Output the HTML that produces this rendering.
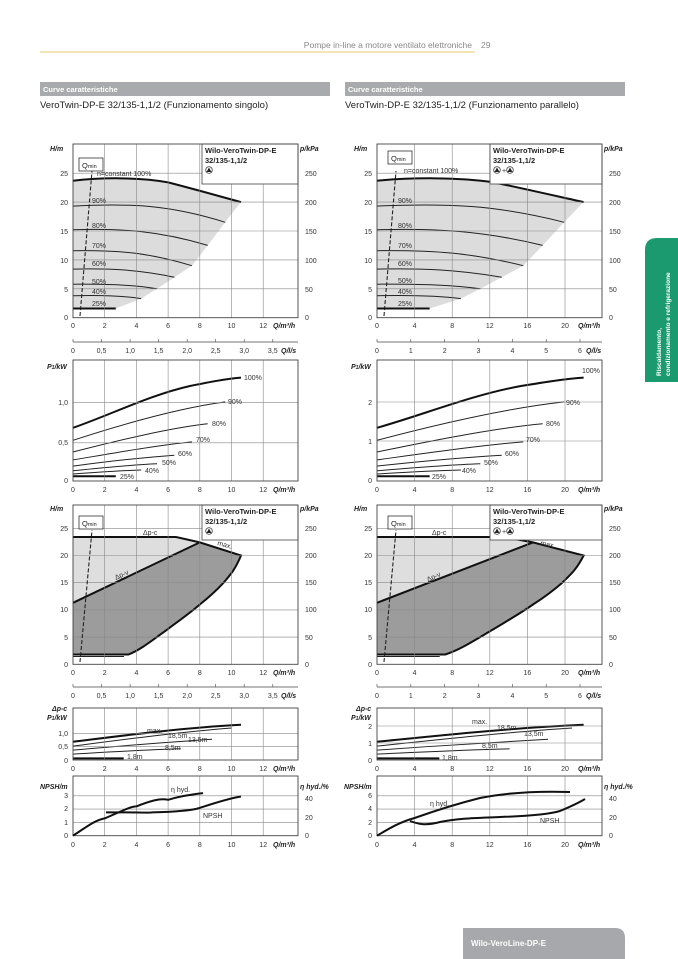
<!DOCTYPE html>
<html><head><meta charset="utf-8"><style>
html,body{margin:0;padding:0;background:#fff;}
svg{display:block;font-family:"Liberation Sans Narrow","Liberation Sans",sans-serif;}
.t{font-size:7px;fill:#333;}
.b{font-weight:bold;font-style:italic;font-size:7px;fill:#222;}
.g{stroke:#888;stroke-width:0.6;fill:none;}
.bx{stroke:#444;stroke-width:0.9;fill:none;}
.c{stroke:#222;stroke-width:1;fill:none;}
.ck{stroke:#111;stroke-width:2;fill:none;}
</style></head><body>
<svg width="678" height="959" viewBox="0 0 678 959" xmlns="http://www.w3.org/2000/svg">
<defs>
<g id="c1">
<path d="M73,180.7 C100,177.5 140,177 168.1,182.4 C190,188 215,195 241,202.1 C233,212 225.2,222.3 225.2,222.3 L207.7,245.4 L191.9,265.7 L174.4,277.2 L157,288.8 L141.2,298.6 L115.8,308.5 L73,308.5 Z" fill="#dcdcdc"/>
<path class="ck" vector-effect="non-scaling-stroke" d="M73,180.7 C100,177.5 140,177 168.1,182.4 C190,188 215,195 241,202.1"/>
<path class="c" vector-effect="non-scaling-stroke" d="M73,206.1 C130,203 170,205 225.2,222.3"/>
<path class="c" vector-effect="non-scaling-stroke" d="M73,229.8 C120,228 160,231 207.7,245.4"/>
<path class="c" vector-effect="non-scaling-stroke" d="M73,250.7 C120,250 150,253 191.9,265.7"/>
<path class="c" vector-effect="non-scaling-stroke" d="M73,269.1 C110,268 140,270 174.4,277.2"/>
<path class="c" vector-effect="non-scaling-stroke" d="M73,284.2 C110,284 135,285 157,288.8"/>
<path class="c" vector-effect="non-scaling-stroke" d="M73,295.7 C100,295 125,296 141.2,298.6"/>
<path class="ck" vector-effect="non-scaling-stroke" d="M73,308.5 L115.8,308.5"/>
</g>
<g id="c2">
<path class="ck" vector-effect="non-scaling-stroke" d="M73,427.8 C110,415 150,395 190,386 C210,382 225,379 241,377.6"/>
<path class="c" vector-effect="non-scaling-stroke" d="M73,440.3 C120,425 180,408 225.2,401.9"/>
<path class="c" vector-effect="non-scaling-stroke" d="M73,452 C120,440 170,428 207.7,423.8"/>
<path class="c" vector-effect="non-scaling-stroke" d="M73,459.9 C120,452 160,445 191.9,441.9"/>
<path class="c" vector-effect="non-scaling-stroke" d="M73,466.1 C110,461 150,457 174.4,455.2"/>
<path class="c" vector-effect="non-scaling-stroke" d="M73,470.8 C110,467 140,464.5 157,463.8"/>
<path class="c" vector-effect="non-scaling-stroke" d="M73,474 C100,472 125,470.5 141.2,470"/>
<path class="ck" vector-effect="non-scaling-stroke" d="M73,476.3 L115.8,476.3"/>
</g>
<g id="c3">
<path d="M73,537 L176,537 L199.8,542.4 L73,602.8 Z" fill="#dedede"/>
<path d="M73,602.8 L199.8,542.4 L241,555.5 C235,570 230,575 223.6,582.7 C215,592 208,598 199.8,604.5 C190,613 180,620 168.1,628.9 C150,642 140,650 128.5,654.5 L73,654.5 Z" fill="#9c9c9c"/>
<path class="ck" vector-effect="non-scaling-stroke" d="M73,537 L176,537 L199.8,542.4 L241,555.5 C235,570 230,575 223.6,582.7 C215,592 208,598 199.8,604.5 C190,613 180,620 168.1,628.9 C150,642 140,650 128.5,654.5 L73,654.5"/>
<path class="ck" vector-effect="non-scaling-stroke" d="M73,602.8 L199.8,542.4"/>
<path class="c" vector-effect="non-scaling-stroke" d="M73,656.5 L124,656.5"/>
</g>
<g id="c4">
<path class="ck" vector-effect="non-scaling-stroke" d="M73,741.8 C120,736 180,728 241,724.8"/>
<path class="c" vector-effect="non-scaling-stroke" d="M73,746.1 C120,740 180,732 231.5,728"/>
<path class="c" vector-effect="non-scaling-stroke" d="M73,750.1 C120,746 170,742 212,739.2"/>
<path class="c" vector-effect="non-scaling-stroke" d="M73,754.1 C110,752 140,750 180.8,748.8"/>
<path class="ck" vector-effect="non-scaling-stroke" d="M73,758.4 L123.7,758.4"/>
</g>
</defs>

<!-- header -->
<line x1="40" y1="52" x2="475" y2="52" stroke="#e6cf6a" stroke-width="1"/>
<text x="472" y="48" font-size="8.5" fill="#888" text-anchor="end">Pompe in-line a motore ventilato elettroniche</text>
<text x="481" y="48" font-size="8.5" fill="#888">29</text>
<rect x="40" y="82" width="290" height="14" fill="#a9aaad"/>
<rect x="345" y="82" width="280" height="14" fill="#a9aaad"/>
<text x="43" y="92" font-size="7.5" font-weight="bold" fill="#fff">Curve caratteristiche</text>
<text x="348" y="92" font-size="7.5" font-weight="bold" fill="#fff">Curve caratteristiche</text>
<text x="40" y="108" font-size="9.5" fill="#222">VeroTwin-DP-E 32/135-1,1/2 (Funzionamento singolo)</text>
<text x="345" y="108" font-size="9.5" fill="#222">VeroTwin-DP-E 32/135-1,1/2 (Funzionamento parallelo)</text>

<!-- green tab -->
<path d="M645,382 L645,250 Q645,238 657,238 L678,238 L678,382 Z" fill="#1b9a70"/>
<text transform="translate(661,376) rotate(-90)" font-size="6.5" font-weight="bold" fill="#fff">Riscaldamento,</text>
<text transform="translate(670,376) rotate(-90)" font-size="6.5" font-weight="bold" fill="#fff">condizionamento e refrigerazione</text>

<!-- bottom tab -->
<path d="M463,959 L463,928 L615,928 Q625,928 625,938 L625,959 Z" fill="#a7a8ab"/>
<text x="471" y="946" font-size="8" font-weight="bold" fill="#fff">Wilo-VeroLine-DP-E</text>

<!-- ============ LEFT PANEL ============ -->
<!-- chart 1 -->
<use href="#c1"/>
<g class="g">
<path d="M104.7,144V317.7M136.4,144V317.7M168.1,144V317.7M199.8,144V317.7M231.5,144V317.7M263.2,144V317.7"/>
<path d="M73,288.8H298M73,259.9H298M73,231H298M73,202.1H298M73,173.2H298"/>
</g>
<rect x="202" y="144" width="96" height="40" fill="#fff" stroke="#444" stroke-width="0.8"/>
<rect class="bx" x="73" y="144" width="225" height="173.7"/>
<line x1="80" y1="316" x2="92" y2="171" stroke="#222" stroke-width="1.1" stroke-dasharray="4,2"/>
<rect x="79" y="158" width="24" height="13" fill="#fff" stroke="#333" stroke-width="0.8"/>
<text x="82" y="168" font-size="7.5" fill="#222">Q<tspan font-size="5.5">min</tspan></text>
<text x="97" y="176" class="t" font-size="6.5">n=constant 100%</text>
<text x="92" y="203" class="t">90%</text><text x="92" y="228" class="t">80%</text>
<text x="92" y="248" class="t">70%</text><text x="92" y="266" class="t">60%</text>
<text x="92" y="284" class="t">50%</text><text x="92" y="294" class="t">40%</text>
<text x="92" y="306" class="t">25%</text>
<text x="205" y="153" font-size="7.5" font-weight="bold" fill="#222">Wilo-VeroTwin-DP-E</text>
<text x="205" y="163" font-size="7.5" font-weight="bold" fill="#222">32/135-1,1/2</text>
<circle cx="209" cy="170" r="3.3" fill="#fff" stroke="#222" stroke-width="0.7"/><path d="M206.5,172 L209,167.5 L211.5,172Z" fill="#222"/>
<text x="50" y="151" class="b">H/m</text><text x="300" y="151" class="b">p/kPa</text>
<g class="t" text-anchor="end"><text x="68" y="176">25</text><text x="68" y="205">20</text><text x="68" y="234">15</text><text x="68" y="263">10</text><text x="68" y="292">5</text><text x="68" y="320">0</text></g>
<g class="t"><text x="305" y="176">250</text><text x="305" y="205">200</text><text x="305" y="234">150</text><text x="305" y="263">100</text><text x="305" y="292">50</text><text x="305" y="320">0</text></g>
<g class="t" text-anchor="middle"><text x="73" y="328">0</text><text x="104.7" y="328">2</text><text x="136.4" y="328">4</text><text x="168.1" y="328">6</text><text x="199.8" y="328">8</text><text x="231.5" y="328">10</text><text x="263.2" y="328">12</text></g>
<text x="273" y="328" class="b">Q/m³/h</text>
<line x1="73" y1="342" x2="298" y2="342" stroke="#444" stroke-width="0.8"/>
<path d="M73,342v-3M101.5,342v-3M130.1,342v-3M158.6,342v-3M187.2,342v-3M215.7,342v-3M244.2,342v-3M272.8,342v-3" stroke="#444" stroke-width="0.6"/>
<g class="t" text-anchor="middle"><text x="73" y="353">0</text><text x="101.5" y="353">0,5</text><text x="130.1" y="353">1,0</text><text x="158.6" y="353">1,5</text><text x="187.2" y="353">2,0</text><text x="215.7" y="353">2,5</text><text x="244.2" y="353">3,0</text><text x="272.8" y="353">3,5</text></g>
<text x="281" y="353" class="b">Q/l/s</text>

<!-- chart 2 -->
<use href="#c2"/>
<g class="g"><path d="M104.7,360V481M136.4,360V481M168.1,360V481M199.8,360V481M231.5,360V481M263.2,360V481M73,442.8H298M73,402.7H298"/></g>
<rect class="bx" x="73" y="360" width="225" height="121"/>
<text x="47" y="369" class="b">P<tspan font-size="5">1</tspan>/kW</text>
<g class="t" text-anchor="end"><text x="68" y="405">1,0</text><text x="68" y="445">0,5</text><text x="68" y="483">0</text></g>
<g class="t"><text x="244" y="380">100%</text><text x="228" y="404">90%</text><text x="212" y="426">80%</text><text x="196" y="442">70%</text><text x="178" y="456">60%</text><text x="162" y="465">50%</text><text x="145" y="473">40%</text><text x="120" y="479">25%</text></g>
<g class="t" text-anchor="middle"><text x="73" y="492">0</text><text x="104.7" y="492">2</text><text x="136.4" y="492">4</text><text x="168.1" y="492">6</text><text x="199.8" y="492">8</text><text x="231.5" y="492">10</text><text x="263.2" y="492">12</text></g>
<text x="273" y="492" class="b">Q/m³/h</text>

<!-- chart 3 -->
<use href="#c3"/>
<g class="g">
<path d="M104.7,505V664.3M136.4,505V664.3M168.1,505V664.3M199.8,505V664.3M231.5,505V664.3M263.2,505V664.3"/>
<path d="M73,637.1H298M73,609.9H298M73,582.7H298M73,555.5H298M73,528.3H298"/>
</g>
<rect x="202" y="505" width="96" height="35" fill="#fff" stroke="#444" stroke-width="0.8"/>
<rect class="bx" x="73" y="505" width="225" height="159.3"/>
<line x1="80" y1="662" x2="92" y2="530" stroke="#222" stroke-width="1.1" stroke-dasharray="4,2"/>
<rect x="79" y="516" width="24" height="13" fill="#fff" stroke="#333" stroke-width="0.8"/>
<text x="82" y="526" font-size="7.5" fill="#222">Q<tspan font-size="5.5">min</tspan></text>
<text x="143" y="535" class="t">Δp-c</text>
<text transform="translate(116,580) rotate(-25)" class="t">Δp-v</text>
<text transform="translate(217,545) rotate(15)" class="t">max.</text>
<text x="205" y="514" font-size="7.5" font-weight="bold" fill="#222">Wilo-VeroTwin-DP-E</text>
<text x="205" y="524" font-size="7.5" font-weight="bold" fill="#222">32/135-1,1/2</text>
<circle cx="209" cy="531" r="3.3" fill="#fff" stroke="#222" stroke-width="0.7"/><path d="M206.5,533 L209,528.5 L211.5,533Z" fill="#222"/>
<text x="50" y="511" class="b">H/m</text><text x="300" y="511" class="b">p/kPa</text>
<g class="t" text-anchor="end"><text x="68" y="531">25</text><text x="68" y="558">20</text><text x="68" y="585">15</text><text x="68" y="612">10</text><text x="68" y="640">5</text><text x="68" y="667">0</text></g>
<g class="t"><text x="305" y="531">250</text><text x="305" y="558">200</text><text x="305" y="585">150</text><text x="305" y="612">100</text><text x="305" y="640">50</text><text x="305" y="667">0</text></g>
<g class="t" text-anchor="middle"><text x="73" y="675">0</text><text x="104.7" y="675">2</text><text x="136.4" y="675">4</text><text x="168.1" y="675">6</text><text x="199.8" y="675">8</text><text x="231.5" y="675">10</text><text x="263.2" y="675">12</text></g>
<text x="273" y="675" class="b">Q/m³/h</text>
<line x1="73" y1="687" x2="298" y2="687" stroke="#444" stroke-width="0.8"/>
<path d="M73,687v-3M101.5,687v-3M130.1,687v-3M158.6,687v-3M187.2,687v-3M215.7,687v-3M244.2,687v-3M272.8,687v-3" stroke="#444" stroke-width="0.6"/>
<g class="t" text-anchor="middle"><text x="73" y="698">0</text><text x="101.5" y="698">0,5</text><text x="130.1" y="698">1,0</text><text x="158.6" y="698">1,5</text><text x="187.2" y="698">2,0</text><text x="215.7" y="698">2,5</text><text x="244.2" y="698">3,0</text><text x="272.8" y="698">3,5</text></g>
<text x="281" y="698" class="b">Q/l/s</text>

<!-- chart 4 -->
<use href="#c4"/>
<g class="g"><path d="M104.7,708V760M136.4,708V760M168.1,708V760M199.8,708V760M231.5,708V760M263.2,708V760M73,733.3H298M73,746.6H298"/></g>
<rect class="bx" x="73" y="708" width="225" height="52"/>
<text x="52" y="711" class="b">Δp-c</text>
<text x="47" y="720" class="b">P<tspan font-size="5">1</tspan>/kW</text>
<g class="t" text-anchor="end"><text x="68" y="736">1,0</text><text x="68" y="749">0,5</text><text x="68" y="763">0</text></g>
<g class="t"><text x="147" y="733">max.</text><text x="168" y="738">18,5m</text><text x="188" y="742">13,5m</text><text x="165" y="750">8,5m</text><text x="127" y="759">1,8m</text></g>
<g class="t" text-anchor="middle"><text x="73" y="771">0</text><text x="104.7" y="771">2</text><text x="136.4" y="771">4</text><text x="168.1" y="771">6</text><text x="199.8" y="771">8</text><text x="231.5" y="771">10</text><text x="263.2" y="771">12</text></g>
<text x="273" y="771" class="b">Q/m³/h</text>

<!-- chart 5 -->
<g class="g"><path d="M104.7,776V835.7M136.4,776V835.7M168.1,776V835.7M199.8,776V835.7M231.5,776V835.7M263.2,776V835.7M73,822.4H298M73,809.1H298M73,795.8H298"/></g>
<rect class="bx" x="73" y="776" width="225" height="59.7"/>
<path class="ck" stroke-width="1.6" d="M73,835.7 C85,828 95,820 104.7,818.4 C120,812 130,806.5 136.4,806.4 C150,801 160,798 168.1,799.8 C180,796 195,794 203,793.1"/>
<path class="ck" stroke-width="1.6" d="M106,812.4 C130,812 150,813 152,812.4 C175,812 195,810 199.8,807.8 C215,803 230,798 241,796.5"/>
<text x="171" y="792" class="t">η hyd.</text><text x="203" y="818" class="t">NPSH</text>
<text x="40" y="789" class="b">NPSH/m</text><text x="300" y="789" class="b">η hyd./%</text>
<g class="t" text-anchor="end"><text x="68" y="798">3</text><text x="68" y="811">2</text><text x="68" y="825">1</text><text x="68" y="838">0</text></g>
<g class="t"><text x="305" y="801">40</text><text x="305" y="820">20</text><text x="305" y="838">0</text></g>
<g class="t" text-anchor="middle"><text x="73" y="847">0</text><text x="104.7" y="847">2</text><text x="136.4" y="847">4</text><text x="168.1" y="847">6</text><text x="199.8" y="847">8</text><text x="231.5" y="847">10</text><text x="263.2" y="847">12</text></g>
<text x="273" y="847" class="b">Q/m³/h</text>

<!-- ============ RIGHT PANEL ============ -->
<g transform="translate(377,0) scale(1.23,1) translate(-73,0)"><use href="#c1"/><use href="#c2"/><use href="#c3"/><use href="#c4"/></g>
<!-- chart 1 -->
<g class="g">
<path d="M414.6,144V317.7M452.2,144V317.7M489.8,144V317.7M527.4,144V317.7M565,144V317.7"/>
<path d="M377,288.8H602M377,259.9H602M377,231H602M377,202.1H602M377,173.2H602"/>
</g>
<rect x="490" y="144" width="112" height="40" fill="#fff" stroke="#444" stroke-width="0.8"/>
<rect class="bx" x="377" y="144" width="225" height="173.7"/>
<line x1="384" y1="316" x2="396" y2="171" stroke="#222" stroke-width="1.1" stroke-dasharray="4,2"/>
<rect x="388" y="151" width="24" height="13" fill="#fff" stroke="#333" stroke-width="0.8"/>
<text x="391" y="161" font-size="7.5" fill="#222">Q<tspan font-size="5.5">min</tspan></text>
<text x="404" y="173" class="t" font-size="6.5">n=constant 100%</text>
<text x="398" y="203" class="t">90%</text><text x="398" y="228" class="t">80%</text>
<text x="398" y="248" class="t">70%</text><text x="398" y="266" class="t">60%</text>
<text x="398" y="283" class="t">50%</text><text x="398" y="294" class="t">40%</text>
<text x="398" y="306" class="t">25%</text>
<text x="493" y="153" font-size="7.5" font-weight="bold" fill="#222">Wilo-VeroTwin-DP-E</text>
<text x="493" y="163" font-size="7.5" font-weight="bold" fill="#222">32/135-1,1/2</text>
<circle cx="497" cy="170" r="3.3" fill="#fff" stroke="#222" stroke-width="0.7"/><path d="M494.5,172 L497,167.5 L499.5,172Z" fill="#222"/>
<text x="502" y="173" class="t">+</text>
<circle cx="510" cy="170" r="3.3" fill="#fff" stroke="#222" stroke-width="0.7"/><path d="M507.5,172 L510,167.5 L512.5,172Z" fill="#222"/>
<text x="354" y="151" class="b">H/m</text><text x="604" y="151" class="b">p/kPa</text>
<g class="t" text-anchor="end"><text x="372" y="176">25</text><text x="372" y="205">20</text><text x="372" y="234">15</text><text x="372" y="263">10</text><text x="372" y="292">5</text><text x="372" y="320">0</text></g>
<g class="t"><text x="609" y="176">250</text><text x="609" y="205">200</text><text x="609" y="234">150</text><text x="609" y="263">100</text><text x="609" y="292">50</text><text x="609" y="320">0</text></g>
<g class="t" text-anchor="middle"><text x="377" y="328">0</text><text x="414.6" y="328">4</text><text x="452.2" y="328">8</text><text x="489.8" y="328">12</text><text x="527.4" y="328">16</text><text x="565" y="328">20</text></g>
<text x="578" y="328" class="b">Q/m³/h</text>
<line x1="377" y1="342" x2="602" y2="342" stroke="#444" stroke-width="0.8"/>
<path d="M377,342v-3M410.8,342v-3M444.7,342v-3M478.5,342v-3M512.4,342v-3M546.2,342v-3M580,342v-3" stroke="#444" stroke-width="0.6"/>
<g class="t" text-anchor="middle"><text x="377" y="353">0</text><text x="410.8" y="353">1</text><text x="444.7" y="353">2</text><text x="478.5" y="353">3</text><text x="512.4" y="353">4</text><text x="546.2" y="353">5</text><text x="580" y="353">6</text></g>
<text x="586" y="353" class="b">Q/l/s</text>

<!-- chart 2 right -->
<g class="g"><path d="M414.6,360V481M452.2,360V481M489.8,360V481M527.4,360V481M565,360V481M377,441H602M377,402H602"/></g>
<rect class="bx" x="377" y="360" width="225" height="121"/>
<text x="351" y="369" class="b">P<tspan font-size="5">1</tspan>/kW</text>
<g class="t" text-anchor="end"><text x="372" y="405">2</text><text x="372" y="444">1</text><text x="372" y="483">0</text></g>
<g class="t"><text x="582" y="373">100%</text><text x="566" y="405">90%</text><text x="546" y="426">80%</text><text x="526" y="442">70%</text><text x="505" y="456">60%</text><text x="484" y="465">50%</text><text x="462" y="473">40%</text><text x="432" y="479">25%</text></g>
<g class="t" text-anchor="middle"><text x="377" y="492">0</text><text x="414.6" y="492">4</text><text x="452.2" y="492">8</text><text x="489.8" y="492">12</text><text x="527.4" y="492">16</text><text x="565" y="492">20</text></g>
<text x="578" y="492" class="b">Q/m³/h</text>

<!-- chart 3 right -->
<g class="g">
<path d="M414.6,505V664.3M452.2,505V664.3M489.8,505V664.3M527.4,505V664.3M565,505V664.3"/>
<path d="M377,637.1H602M377,609.9H602M377,582.7H602M377,555.5H602M377,528.3H602"/>
</g>
<rect x="490" y="505" width="112" height="35" fill="#fff" stroke="#444" stroke-width="0.8"/>
<rect class="bx" x="377" y="505" width="225" height="159.3"/>
<line x1="384" y1="662" x2="396" y2="530" stroke="#222" stroke-width="1.1" stroke-dasharray="4,2"/>
<rect x="388" y="516" width="24" height="13" fill="#fff" stroke="#333" stroke-width="0.8"/>
<text x="391" y="526" font-size="7.5" fill="#222">Q<tspan font-size="5.5">min</tspan></text>
<text x="432" y="535" class="t">Δp-c</text>
<text transform="translate(428,582) rotate(-25)" class="t">Δp-v</text>
<text transform="translate(540,545) rotate(12)" class="t">max.</text>
<text x="493" y="514" font-size="7.5" font-weight="bold" fill="#222">Wilo-VeroTwin-DP-E</text>
<text x="493" y="524" font-size="7.5" font-weight="bold" fill="#222">32/135-1,1/2</text>
<circle cx="497" cy="531" r="3.3" fill="#fff" stroke="#222" stroke-width="0.7"/><path d="M494.5,533 L497,528.5 L499.5,533Z" fill="#222"/>
<text x="502" y="534" class="t">+</text>
<circle cx="510" cy="531" r="3.3" fill="#fff" stroke="#222" stroke-width="0.7"/><path d="M507.5,533 L510,528.5 L512.5,533Z" fill="#222"/>
<text x="354" y="511" class="b">H/m</text><text x="604" y="511" class="b">p/kPa</text>
<g class="t" text-anchor="end"><text x="372" y="531">25</text><text x="372" y="558">20</text><text x="372" y="585">15</text><text x="372" y="612">10</text><text x="372" y="640">5</text><text x="372" y="667">0</text></g>
<g class="t"><text x="609" y="531">250</text><text x="609" y="558">200</text><text x="609" y="585">150</text><text x="609" y="612">100</text><text x="609" y="640">50</text><text x="609" y="667">0</text></g>
<g class="t" text-anchor="middle"><text x="377" y="675">0</text><text x="414.6" y="675">4</text><text x="452.2" y="675">8</text><text x="489.8" y="675">12</text><text x="527.4" y="675">16</text><text x="565" y="675">20</text></g>
<text x="578" y="675" class="b">Q/m³/h</text>
<line x1="377" y1="687" x2="602" y2="687" stroke="#444" stroke-width="0.8"/>
<path d="M377,687v-3M410.8,687v-3M444.7,687v-3M478.5,687v-3M512.4,687v-3M546.2,687v-3M580,687v-3" stroke="#444" stroke-width="0.6"/>
<g class="t" text-anchor="middle"><text x="377" y="698">0</text><text x="410.8" y="698">1</text><text x="444.7" y="698">2</text><text x="478.5" y="698">3</text><text x="512.4" y="698">4</text><text x="546.2" y="698">5</text><text x="580" y="698">6</text></g>
<text x="586" y="698" class="b">Q/l/s</text>

<!-- chart 4 right -->
<g class="g"><path d="M414.6,708V760M452.2,708V760M489.8,708V760M527.4,708V760M565,708V760M377,743H602M377,726H602"/></g>
<rect class="bx" x="377" y="708" width="225" height="52"/>
<text x="356" y="711" class="b">Δp-c</text>
<text x="351" y="720" class="b">P<tspan font-size="5">1</tspan>/kW</text>
<g class="t" text-anchor="end"><text x="372" y="729">2</text><text x="372" y="746">1</text><text x="372" y="763">0</text></g>
<g class="t"><text x="472" y="724">max.</text><text x="497" y="730">18,5m</text><text x="524" y="736">13,5m</text><text x="482" y="748">8,5m</text><text x="442" y="760">1,8m</text></g>
<g class="t" text-anchor="middle"><text x="377" y="771">0</text><text x="414.6" y="771">4</text><text x="452.2" y="771">8</text><text x="489.8" y="771">12</text><text x="527.4" y="771">16</text><text x="565" y="771">20</text></g>
<text x="578" y="771" class="b">Q/m³/h</text>

<!-- chart 5 right -->
<g class="g"><path d="M414.6,776V835.7M452.2,776V835.7M489.8,776V835.7M527.4,776V835.7M565,776V835.7M377,822.4H602M377,809.1H602M377,795.8H602"/></g>
<rect class="bx" x="377" y="776" width="225" height="59.7"/>
<path class="ck" stroke-width="1.6" d="M377,835.7 C390,828 400,822 414.6,818 C440,809 460,803 480,798 C510,792 540,791 570,792"/>
<path class="ck" stroke-width="1.6" d="M410,821 C418,824 425,826 440,822 C460,818 480,818 500,817 C530,816 550,814 560,811 C572,806 580,802 585,799"/>
<text x="430" y="806" class="t">η hyd.</text><text x="540" y="823" class="t">NPSH</text>
<text x="344" y="789" class="b">NPSH/m</text><text x="604" y="789" class="b">η hyd./%</text>
<g class="t" text-anchor="end"><text x="372" y="798">6</text><text x="372" y="811">4</text><text x="372" y="825">2</text><text x="372" y="838">0</text></g>
<g class="t"><text x="609" y="801">40</text><text x="609" y="820">20</text><text x="609" y="838">0</text></g>
<g class="t" text-anchor="middle"><text x="377" y="847">0</text><text x="414.6" y="847">4</text><text x="452.2" y="847">8</text><text x="489.8" y="847">12</text><text x="527.4" y="847">16</text><text x="565" y="847">20</text></g>
<text x="578" y="847" class="b">Q/m³/h</text>
</svg>
</body></html>
